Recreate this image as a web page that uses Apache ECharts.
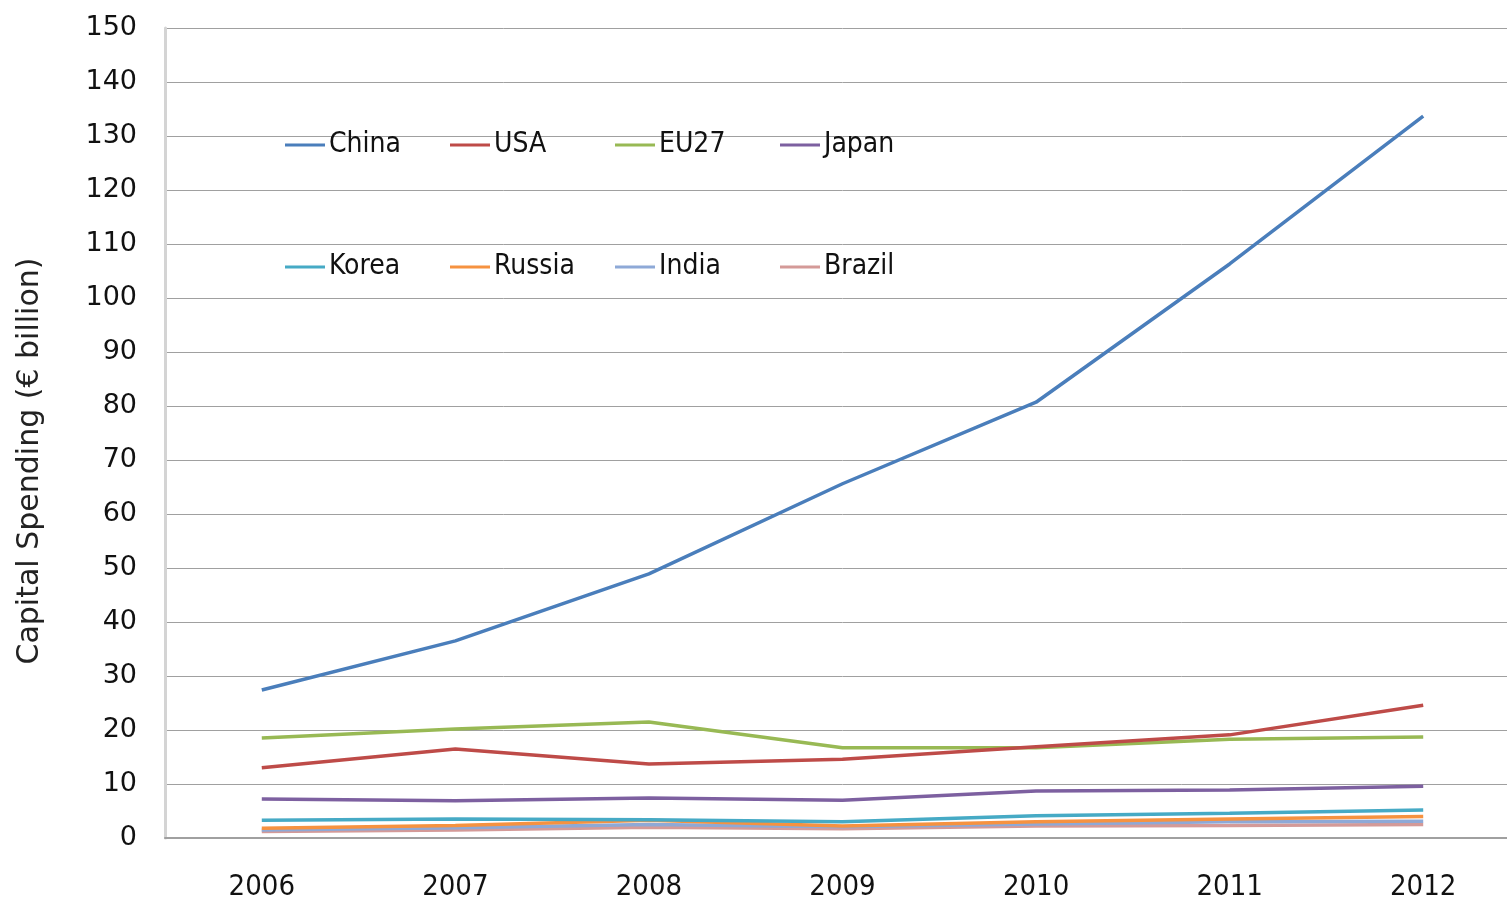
<!DOCTYPE html>
<html>
<head>
<meta charset="utf-8">
<script src="https://cdn.jsdelivr.net/npm/echarts@6/dist/echarts.min.js"></script>
<style>html,body{margin:0;padding:0;background:#fff;overflow:hidden}#c{width:1520px;height:903px}</style>
</head>
<body>
<div id="c"></div>
<script>
const years = ['2006','2007','2008','2009','2010','2011','2012'];
const china  = [27.4, 36.5, 48.9, 65.6, 80.7, 106.3, 133.7];
const usa    = [13.0, 16.5, 13.7, 14.6, 16.9, 19.1, 24.6];
const eu27   = [18.5, 20.2, 21.5, 16.7, 16.7, 18.3, 18.7];
const japan  = [7.2, 6.9, 7.4, 7.0, 8.7, 8.9, 9.6];
const korea  = [3.3, 3.5, 3.4, 3.0, 4.1, 4.6, 5.2];
const russia = [1.8, 2.3, 3.3, 2.2, 3.0, 3.5, 4.0];
const india  = [1.5, 1.9, 2.5, 2.1, 2.6, 3.0, 3.1];
const brazil = [1.2, 1.5, 2.0, 1.7, 2.2, 2.3, 2.5];
const yTicks = {min: 0, max: 150, interval: 10};

const names  = ['China','USA','EU27','Japan','Korea','Russia','India','Brazil'];
const values = [china, usa, eu27, japan, korea, russia, india, brazil];
const colors = ['#4A7EBB','#BE4B48','#98B954','#7D60A0','#46AAC5','#F69240','#8EA9D7','#D49A98'];

const chart = echarts.init(document.getElementById('c'));
const legendCols = [285, 450, 615, 780];
const legendRows = [131, 253];
const legends = names.map((n, i) => ({
  left: legendCols[i % 4], top: legendRows[Math.floor(i / 4)], padding: 0,
  itemWidth: 40, itemHeight: 3, icon: 'rect', selectedMode: false,
  textStyle: {fontFamily: 'DejaVu Sans Condensed', fontSize: 28, color: '#111', padding: [0,0,0,-1]},
  data: [n]
}));
chart.setOption({
  animation: false,
  color: colors,
  grid: {left: 165, right: 0, top: 28, bottom: 65, containLabel: false},
  legend: legends,
  xAxis: {
    type: 'category', data: years, boundaryGap: true,
    axisLine: {lineStyle: {color: '#a0a0a0', width: 2}},
    axisTick: {show: false},
    axisLabel: {fontFamily: 'DejaVu Sans Condensed', fontSize: 29, color: '#111', margin: 35}
  },
  yAxis: {
    type: 'value', min: yTicks.min, max: yTicks.max, interval: yTicks.interval,
    name: 'Capital Spending (€ billion)', nameLocation: 'middle', nameRotate: 90, nameGap: 120,
    nameTextStyle: {fontFamily: 'DejaVu Sans', fontSize: 30, color: '#222', padding: [0, 56, 0, 0]},
    axisLine: {show: true, lineStyle: {color: '#d4d4d4', width: 3}},
    axisTick: {show: false},
    axisLabel: {fontFamily: 'DejaVu Sans', fontSize: 27, color: '#111', margin: 28},
    splitLine: {lineStyle: {color: '#a0a0a0', width: 1}}
  },
  series: names.map((n, i) => ({
    name: n, type: 'line', data: values[i], showSymbol: false, symbol: 'none',
    lineStyle: {width: 3.5, color: colors[i]}, itemStyle: {color: colors[i]}, z: 10 - i
  }))
});
</script>
</body>
</html>
